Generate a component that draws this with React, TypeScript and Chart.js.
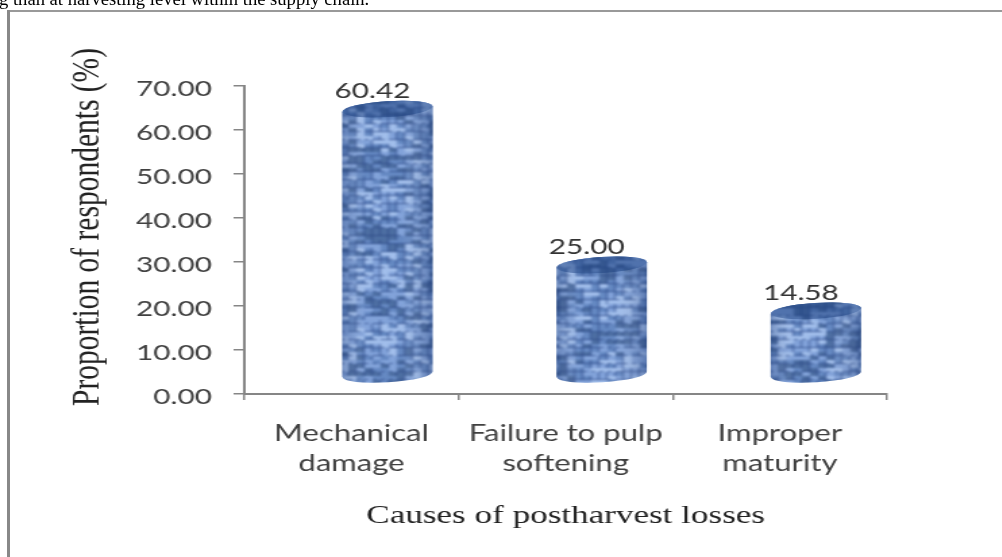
import React, { useEffect, useRef } from "react";
import { Chart, registerables } from "chart.js";

Chart.register(...registerables);

const categories = [["Mechanical", "damage"], ["Failure to pulp", "softening"], ["Improper", "maturity"]];
const values = [60.42, 25.0, 14.58];
const valueLabels = ["60.42", "25.00", "14.58"];
const yTitle = "Proportion of respondents (%)";
const xTitle = "Causes of postharvest losses";
const sentence = "g than at harvesting level within the supply chain.";

const STRETCH = 1.35;
const CANVAS_W = Math.round(1002 / STRETCH);
const CANVAS_H = 557;

function makeWeave(): HTMLCanvasElement {
  const size = 402;
  const raw = document.createElement("canvas");
  raw.width = size;
  raw.height = size;
  const g = raw.getContext("2d")!;
  g.fillStyle = "#5f84c0";
  g.fillRect(0, 0, size, size);
  const cw = 6;
  const ch = 4;
  for (let iy = 0; iy < size / ch; iy++) {
    for (let ix = 0; ix < size / cw; ix++) {
      const n = Math.sin(ix * 12.9898 + iy * 78.233) * 43758.5453;
      const h = n - Math.floor(n);
      const blob = 0.5 + 0.5 * Math.sin(ix * 0.41 + 1.3) * Math.cos(iy * 0.37 + 0.4);
      const t = 0.55 * h + 0.45 * blob;
      g.fillStyle = t > 0.68 ? "#9dbbea" : t > 0.5 ? "#7d9fd8" : t > 0.32 ? "#5f84c0" : "#46699f";
      g.fillRect(ix * cw, iy * ch, cw, ch);
      g.fillStyle = "rgba(30,60,125,0.7)";
      if (iy % 2 === 0) g.fillRect(ix * cw, iy * ch + ch - 1, cw - (h > 0.6 ? 3 : 0), 1);
      if (h < 0.55) g.fillRect(ix * cw + cw - 1, iy * ch, 1, ch);
    }
  }
  const c = document.createElement("canvas");
  c.width = size;
  c.height = size;
  const s = c.getContext("2d")!;
  s.filter = "blur(0.9px)";
  s.drawImage(raw, 0, 0);
  return c;
}

const cylinderPlugin = {
  id: "cylinders",
  afterDatasetsDraw(chart: any) {
    const ctx: CanvasRenderingContext2D = chart.ctx;
    const pattern = ctx.createPattern(makeWeave(), "repeat")!;
    const dx = 26.7;
    const dy = -19;
    const ry = 8;
    const tilt = 0.085;
    chart.getDatasetMeta(0).data.forEach((bar: any, i: number) => {
      const cx = bar.x + dx;
      const rx = bar.width / 2;
      const top = bar.y + dy;
      const base = bar.base + dy;
      const rise = rx * tilt;
      ctx.save();
      ctx.beginPath();
      ctx.moveTo(cx - rx, top + rise);
      ctx.lineTo(cx - rx, base + rise);
      ctx.ellipse(cx, base, rx, ry, -tilt, Math.PI, 0, true);
      ctx.lineTo(cx + rx, top - rise);
      ctx.ellipse(cx, top, rx, ry, -tilt, 0, Math.PI, true);
      ctx.closePath();
      ctx.fillStyle = pattern;
      ctx.fill();
      const shade = ctx.createLinearGradient(cx - rx, 0, cx + rx, 0);
      shade.addColorStop(0, "rgba(20,45,100,0.3)");
      shade.addColorStop(0.25, "rgba(255,255,255,0.04)");
      shade.addColorStop(0.65, "rgba(255,255,255,0.04)");
      shade.addColorStop(1, "rgba(20,45,100,0.34)");
      ctx.fillStyle = shade;
      ctx.fill();
      ctx.beginPath();
      ctx.ellipse(cx, top, rx, ry, -tilt, 0, Math.PI * 2);
      ctx.fillStyle = pattern;
      ctx.fill();
      ctx.fillStyle = "rgba(35,70,130,0.5)";
      ctx.fill();
      ctx.font = "22px Lato";
      ctx.fillStyle = "#333333";
      ctx.textAlign = "center";
      ctx.textBaseline = "middle";
      ctx.fillText(valueLabels[i], bar.x + 15.6, top - 18);
      ctx.restore();
    });
  },
};

export default function App() {
  const ref = useRef<HTMLCanvasElement>(null);
  useEffect(() => {
    const chart = new Chart(ref.current!, {
      type: "bar",
      data: {
        labels: categories,
        datasets: [{ data: values, backgroundColor: "rgba(0,0,0,0)", barThickness: 67 }],
      },
      plugins: [cylinderPlugin],
      options: {
        animation: false,
        responsive: false,
        devicePixelRatio: 1,
        layout: { padding: { left: 0, top: 86, right: CANVAS_W - 657, bottom: 0 } },
        plugins: { legend: { display: false }, tooltip: { enabled: false } },
        scales: {
          x: {
            offset: true,
            grid: { offset: true, drawOnChartArea: false, color: "#868686", lineWidth: 1.5, tickLength: 6 },
            border: { color: "#868686", width: 2 },
            ticks: { color: "#404040", font: { family: "Lato", size: 23, lineHeight: 1.3 }, padding: 19, maxRotation: 0, autoSkip: false },
            title: { display: true, text: xTitle, color: "#222222", font: { family: "Liberation Serif", size: 26 }, padding: { top: 0, bottom: 25 } },
            afterFit: (s: any) => { s.height = 163; },
          },
          y: {
            min: 0,
            max: 70,
            grid: { drawOnChartArea: false, color: "#868686", lineWidth: 1.5, tickLength: 8 },
            border: { color: "#868686", width: 2 },
            ticks: { stepSize: 10, color: "#404040", font: { family: "Lato", size: 22 }, padding: 16, labelOffset: 3, callback: (v: any) => Number(v).toFixed(2) },
            title: { display: true, text: yTitle, color: "#222222", font: { family: "Liberation Serif", size: 29.5 }, padding: { top: 48, bottom: 0 } },
            afterFit: (s: any) => {
              s.width = 181;
              if (!s.__shifted) {
                const draw = s.drawTitle.bind(s);
                s.drawTitle = () => {
                  s.ctx.save();
                  s.ctx.translate(0, -13);
                  draw();
                  s.ctx.restore();
                };
                s.__shifted = true;
              }
            },
          },
        },
      },
    } as any);
    return () => chart.destroy();
  }, []);
  return (
    <div style={{ position: "fixed", inset: 0, overflow: "hidden", background: "#fff" }}>
      <canvas
        ref={ref}
        width={CANVAS_W}
        height={CANVAS_H}
        style={{ position: "absolute", left: 0, top: 0, width: CANVAS_W, height: CANVAS_H, transform: `scaleX(${STRETCH})`, transformOrigin: "0 0", filter: "blur(0.4px)" }}
      />
      <div style={{ position: "absolute", left: -1, top: -12, fontFamily: "'Liberation Serif'", fontSize: 18.6, lineHeight: "22px", whiteSpace: "nowrap", color: "#000" }}>{sentence}</div>
      <div style={{ position: "absolute", left: 8, top: 10, right: 0, height: 2, background: "#999" }} />
      <div style={{ position: "absolute", left: 7, top: 10, bottom: 0, width: 3, background: "#888" }} />
    </div>
  );
}
